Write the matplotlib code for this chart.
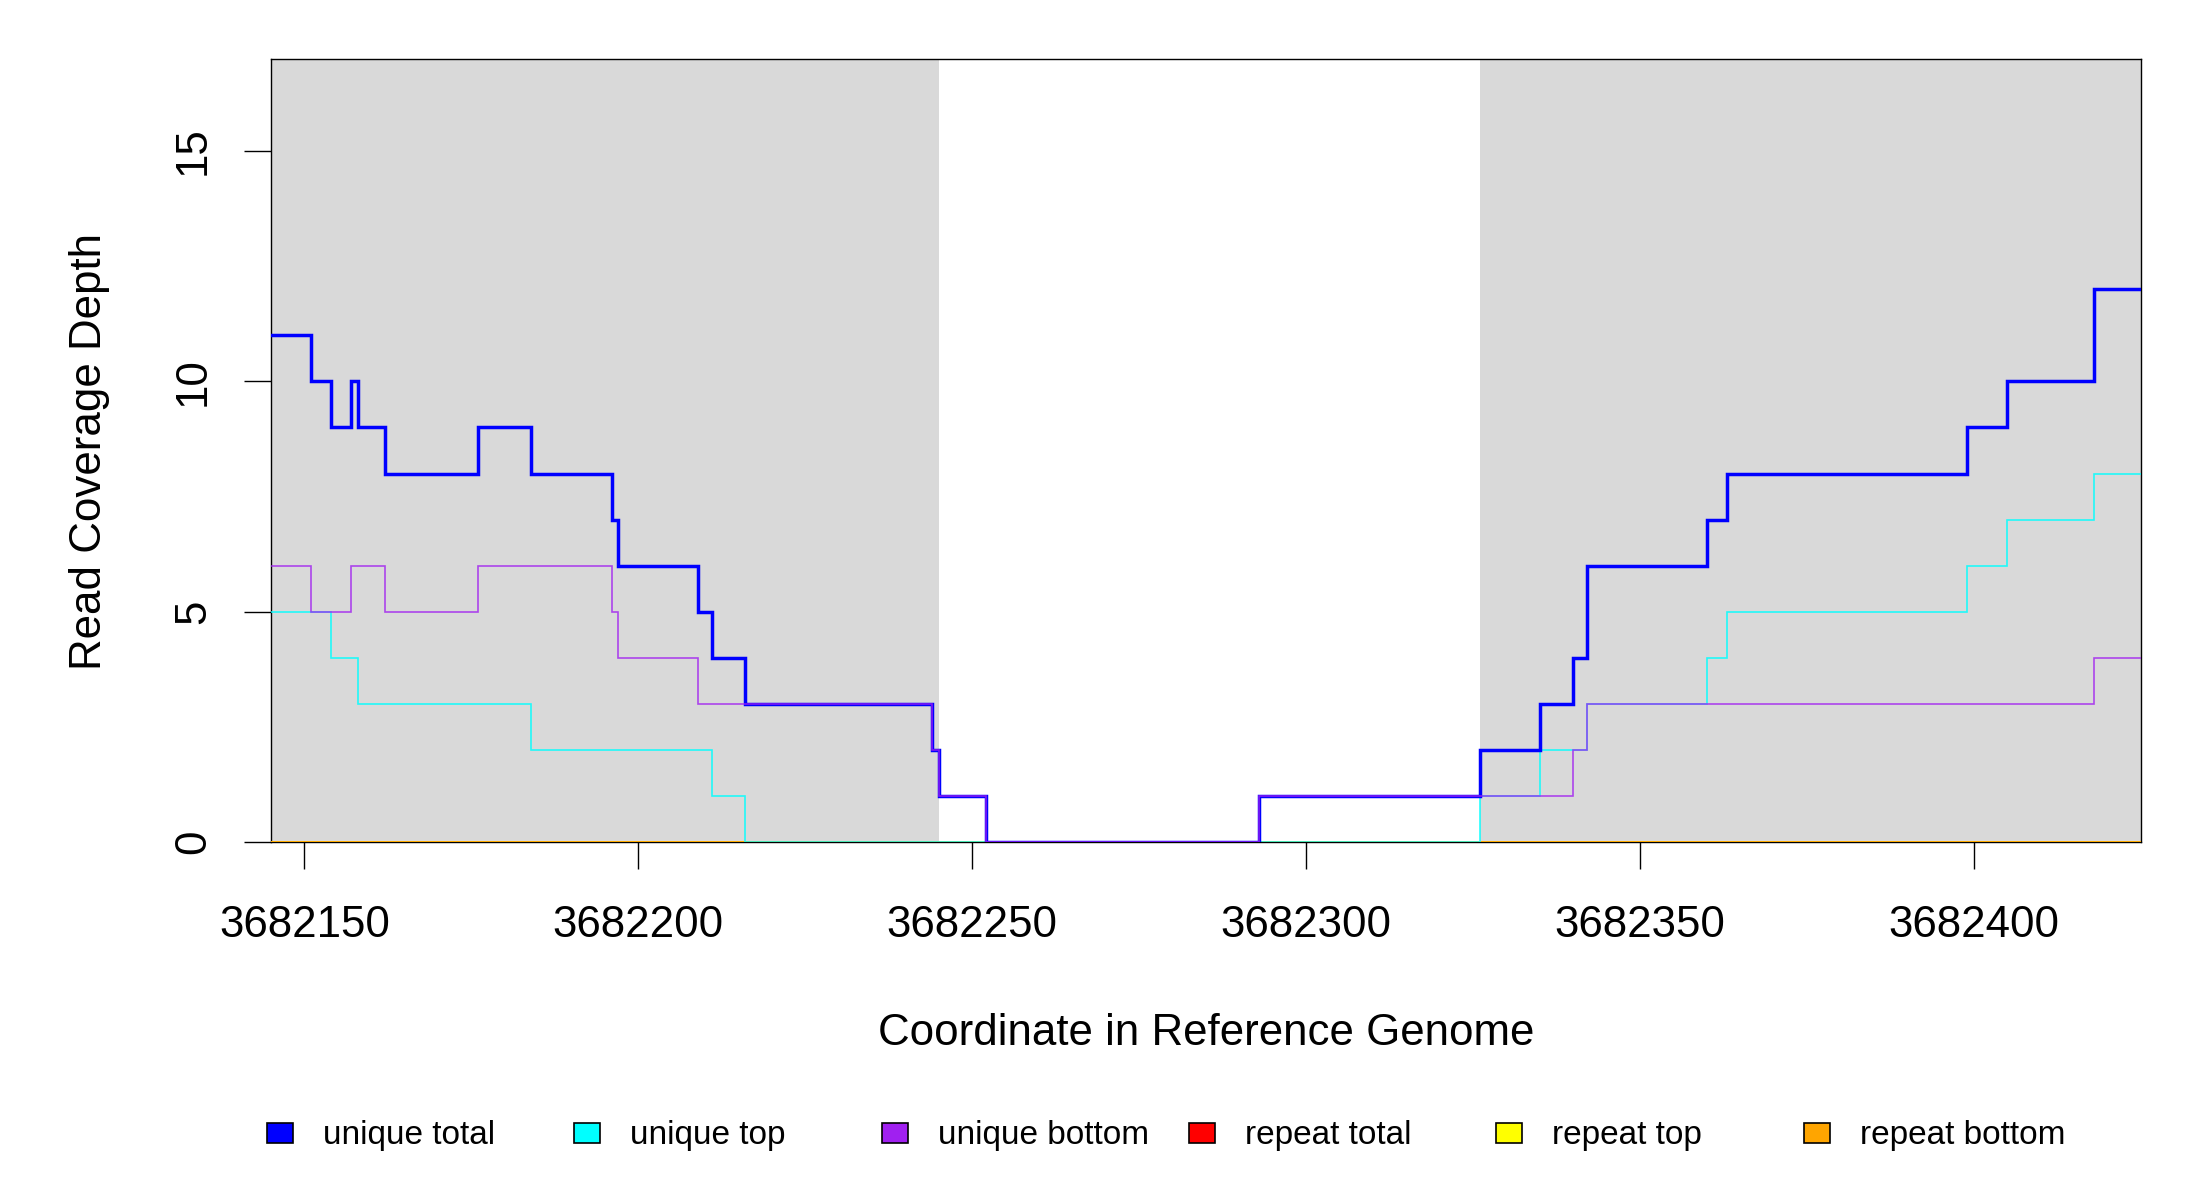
import matplotlib
matplotlib.use("Agg")
import matplotlib.pyplot as plt
from matplotlib.patches import Rectangle
import matplotlib.transforms as mtransforms

plt.rcParams['font.family'] = ['Liberation Sans', 'DejaVu Sans']

# ---------------- data ----------------
x_start = 3682145
x_end = 3682425
y_max = 17

shade_starts = [3682145, 3682326]
shade_ends = [3682245, 3682425]

# step series: position where each value starts, and the value
unique_total_x = [3682145, 3682151, 3682154, 3682157, 3682158, 3682162, 3682176,
                  3682184, 3682196, 3682197, 3682209, 3682211, 3682216, 3682244,
                  3682245, 3682252, 3682293, 3682326, 3682335, 3682340, 3682342,
                  3682360, 3682363, 3682399, 3682405, 3682418]
unique_total_y = [11, 10, 9, 10, 9, 8, 9, 8, 7, 6, 5, 4, 3, 2, 1, 0, 1, 2, 3, 4, 6,
                  7, 8, 9, 10, 12]

unique_top_x = [3682145, 3682154, 3682158, 3682184, 3682211, 3682216, 3682326,
                3682335, 3682342, 3682360, 3682363, 3682399, 3682405, 3682418]
unique_top_y = [5, 4, 3, 2, 1, 0, 1, 2, 3, 4, 5, 6, 7, 8]

unique_bottom_x = [3682145, 3682151, 3682157, 3682162, 3682176, 3682196, 3682197,
                   3682209, 3682244, 3682245, 3682252, 3682293, 3682340, 3682342,
                   3682418]
unique_bottom_y = [6, 5, 6, 5, 6, 5, 4, 3, 2, 1, 0, 1, 2, 3, 4]

repeat_total_x = [3682145]
repeat_total_y = [0]
repeat_top_x = [3682145]
repeat_top_y = [0]
repeat_bottom_x = [3682145]
repeat_bottom_y = [0]

series_labels = ["unique total", "unique top", "unique bottom",
                 "repeat total", "repeat top", "repeat bottom"]
series_colors = ["#0000FF", "#00FFFF", "#A020F0", "#FF0000", "#FFFF00", "#FFA500"]

x_ticks = [3682150, 3682200, 3682250, 3682300, 3682350, 3682400]
y_ticks = [0, 5, 10, 15]

x_title = "Coordinate in Reference Genome"
y_title = "Read Coverage Depth"

# ---------------- figure ----------------
W, H = 2200, 1200
fig = plt.figure(figsize=(22, 12), dpi=100)

ax_l, ax_r, ax_t, ax_b = 271, 2141, 59, 842
ax = fig.add_axes([ax_l / W, 1 - ax_b / H, (ax_r - ax_l) / W, (ax_b - ax_t) / H])
ax.set_xlim(x_start, x_end)
ax.set_ylim(0, y_max)

for s, e in zip(shade_starts, shade_ends):
    ax.axvspan(s, e, color="#D9D9D9", lw=0, zorder=0)


def draw_step(xs, ys, color, lw, alpha, z):
    ax.step(list(xs) + [x_end], list(ys) + [ys[-1]], where="post",
            color=color, lw=lw, alpha=alpha, zorder=z, solid_joinstyle="miter")


draw_step(repeat_total_x, repeat_total_y, series_colors[3], 1.3, 1.0, 3)
draw_step(repeat_top_x, repeat_top_y, series_colors[4], 1.3, 1.0, 3.1)
draw_step(repeat_bottom_x, repeat_bottom_y, series_colors[5], 1.3, 1.0, 3.2)
draw_step(unique_top_x, unique_top_y, series_colors[1], 1.2, 0.85, 3.3)
draw_step(unique_total_x, unique_total_y, series_colors[0], 2.5, 1.0, 3.4)
draw_step(unique_bottom_x, unique_bottom_y, series_colors[2], 1.2, 0.8, 3.5)

for sp in ax.spines.values():
    sp.set_color("black")
    sp.set_linewidth(1.0)
    sp.set_zorder(2.5)

ax.set_xticks(x_ticks)
ax.set_xticklabels([str(v) for v in x_ticks])
ax.set_yticks(y_ticks)
ax.set_yticklabels([])
ax.tick_params(axis="both", direction="out", length=19.4, width=1.0, color="black")
ax.tick_params(axis="x", labelsize=31.6, pad=26)

# rotated y tick labels (R style)
ytrans = mtransforms.blended_transform_factory(ax.transAxes, ax.transData)
lab_x = (205 - ax_l) / (ax_r - ax_l)
for v in y_ticks:
    ax.text(lab_x, v, str(v), transform=ytrans, rotation=90, rotation_mode="anchor",
            ha="center", va="baseline", fontsize=31.6, clip_on=False)

# axis titles
fig.text((ax_l + ax_r) / 2 / W, 1 - 1045 / H, x_title, ha="center", va="baseline",
         fontsize=31.6)
fig.text(101 / W, 1 - 451 / H, y_title, rotation=90, rotation_mode="anchor",
         ha="center", va="baseline", fontsize=31.6)

# legend (horizontal, boxes)
box_w, box_h = 26, 20
box_top = 1123
first_left = 267
step = 307.3
for i, (lab, col) in enumerate(zip(series_labels, series_colors)):
    bx = first_left + i * step
    fig.add_artist(Rectangle((bx / W, 1 - (box_top + box_h) / H), box_w / W, box_h / H,
                             transform=fig.transFigure, facecolor=col,
                             edgecolor="black", lw=1.2))
    fig.text((bx + 56) / W, 1 - 1144 / H, lab, ha="left", va="baseline", fontsize=24)

fig.savefig("out.png", dpi=100, facecolor="white")
